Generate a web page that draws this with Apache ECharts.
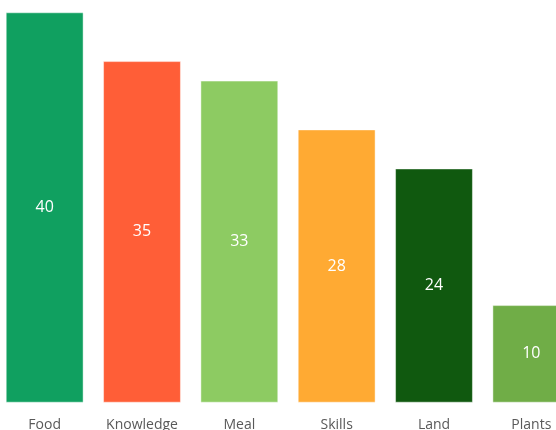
<!DOCTYPE html>
<html><head><meta charset="utf-8">
<script src="https://cdn.jsdelivr.net/npm/echarts@6/dist/echarts.min.js"></script>
<style>html,body{margin:0;padding:0;background:#fff}#c{width:556px;height:430px}</style>
</head><body><div id="c"></div>
<script>
const categories = ["Food", "Knowledge", "Meal", "Skills", "Land", "Plants"];
const values = [40, 35, 33, 28, 24, 10];
const colors = ["#10A060", "#FF5E37", "#8DCB62", "#FFAA33", "#10590F", "#70AD47"];

const chart = echarts.init(document.getElementById('c'));
chart.setOption({
  animation: false,
  grid: { left: -4, width: 584, top: 12.3, bottom: 27.3, containLabel: false, outerBoundsMode: 'none' },
  xAxis: {
    type: 'category', data: categories,
    axisLine: { show: false }, axisTick: { show: false },
    axisLabel: { interval: 0, color: '#595959', fontSize: 14, fontFamily: 'Open Sans', margin: 15 }
  },
  yAxis: { type: 'value', min: 0, max: 40, show: false, splitLine: { show: false } },
  series: [{
    type: 'bar',
    barWidth: '80%',
    data: values.map((v, i) => ({ value: v, itemStyle: { color: colors[i] } })),
    itemStyle: { borderColor: 'rgba(255,255,255,0.45)', borderWidth: 1 },
    label: { show: true, position: 'inside', color: '#fff', fontSize: 16, fontFamily: 'Open Sans' }
  }]
});
</script></body></html>
